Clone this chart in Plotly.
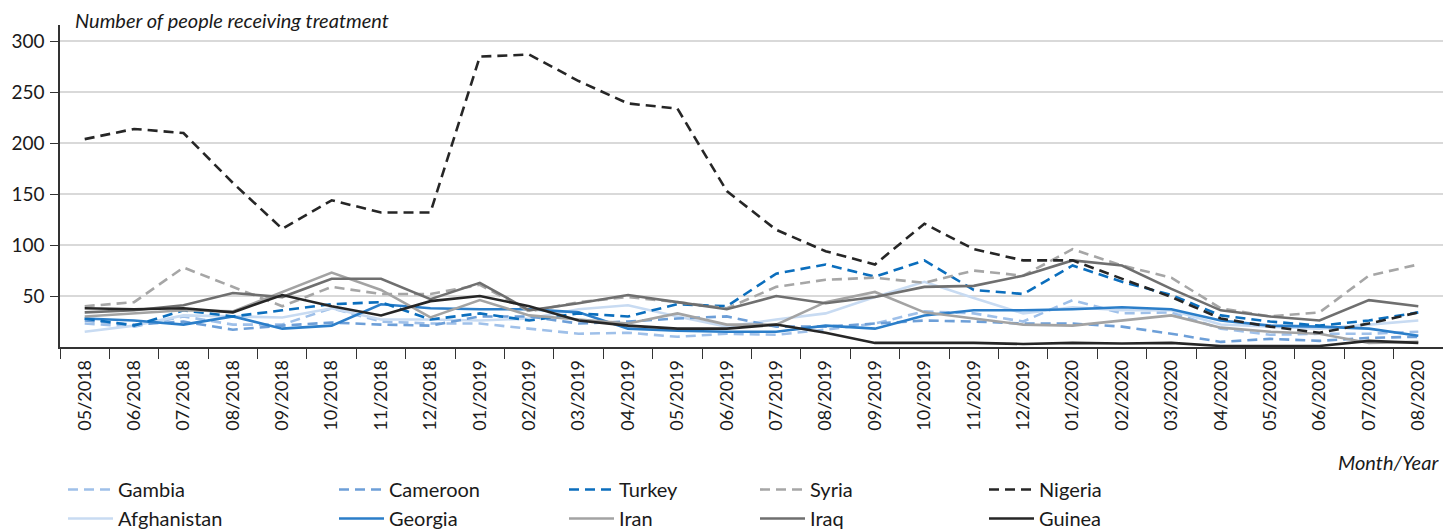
import plotly.graph_objects as go

months = ["05/2018", "06/2018", "07/2018", "08/2018", "09/2018", "10/2018", "11/2018", "12/2018",
          "01/2019", "02/2019", "03/2019", "04/2019", "05/2019", "06/2019", "07/2019", "08/2019",
          "09/2019", "10/2019", "11/2019", "12/2019", "01/2020", "02/2020", "03/2020", "04/2020",
          "05/2020", "06/2020", "07/2020", "08/2020"]

gambia = [23, 20, 30, 22, 22, 38, 25, 23, 23, 18, 13, 14, 10, 13, 12, 17, 23, 35, 33, 25, 46, 33, 34, 18, 12, 13, 13, 15]
cameroon = [26, 22, 25, 17, 21, 24, 22, 21, 30, 30, 23, 25, 28, 30, 20, 20, 23, 26, 25, 23, 23, 20, 13, 5, 8, 6, 9, 10]
turkey = [28, 21, 36, 30, 36, 42, 44, 27, 33, 26, 33, 30, 42, 40, 72, 81, 69, 85, 56, 52, 80, 64, 51, 31, 25, 21, 26, 34]
syria = [40, 44, 78, 59, 40, 59, 52, 52, 61, 35, 44, 49, 44, 38, 59, 66, 68, 63, 75, 70, 96, 80, 68, 38, 30, 34, 70, 81]
nigeria = [204, 214, 210, 161, 116, 144, 132, 132, 285, 287, 261, 239, 234, 153, 115, 94, 81, 121, 96, 85, 85, 67, 49, 28, 20, 14, 23, 34]
afghanistan = [15, 21, 31, 30, 29, 38, 27, 27, 26, 28, 37, 41, 30, 20, 27, 33, 49, 64, 48, 33, 39, 36, 36, 22, 20, 18, 22, 26]
georgia = [28, 26, 22, 30, 18, 21, 42, 38, 37, 37, 34, 18, 16, 15, 15, 21, 18, 31, 36, 36, 37, 39, 37, 26, 21, 20, 18, 11]
iran = [30, 33, 36, 35, 54, 73, 56, 29, 46, 31, 27, 23, 33, 22, 22, 44, 54, 34, 28, 22, 21, 26, 31, 19, 15, 13, 4, 5]
iraq = [34, 36, 41, 53, 49, 67, 67, 47, 63, 36, 43, 51, 44, 37, 50, 43, 49, 59, 60, 70, 85, 80, 57, 36, 30, 26, 46, 40]
guinea = [38, 37, 38, 34, 51, 40, 31, 45, 50, 40, 26, 21, 18, 18, 22, 14, 4, 4, 4, 3, 4, 3.5, 4, 1, 1, 1, 6, 4]

series = [
    # name, values, color, dashed, legend id
    ("Gambia", gambia, "#9fc0e9", True, "legend"),
    ("Afghanistan", afghanistan, "#c8dbf2", False, "legend"),
    ("Cameroon", cameroon, "#6d9fd8", True, "legend2"),
    ("Georgia", georgia, "#2b7ec9", False, "legend2"),
    ("Turkey", turkey, "#0b6ebd", True, "legend3"),
    ("Iran", iran, "#a3a3a3", False, "legend3"),
    ("Syria", syria, "#a6a6a6", True, "legend4"),
    ("Iraq", iraq, "#6f6f6f", False, "legend4"),
    ("Nigeria", nigeria, "#262626", True, "legend5"),
    ("Guinea", guinea, "#262626", False, "legend5"),
]

FONT = "Lato"
fig = go.Figure()
for name, vals, color, dashed, leg in series:
    fig.add_trace(go.Scatter(
        x=months, y=vals, name=name, mode="lines",
        line=dict(color=color, width=2.6, dash="10px,6px" if dashed else "solid"),
        legend=leg, hoverinfo="x+y+name",
    ))

ML, MR, MT, MB = 60, 0, 25, 183
W, H = 1443, 530
PW = W - ML - MR
PH = H - MT - MB

def px_x(px):
    return (px - ML) / PW

def px_y(py):
    return (H - MB - py) / PH

leg_common = dict(orientation="v", xanchor="left", yanchor="top", bgcolor="rgba(0,0,0,0)",
                  font=dict(family=FONT, size=20, color="#1a1a1a"), itemwidth=45,
                  tracegroupgap=0, traceorder="normal")
legend_cols = [63, 334, 564, 755, 984]
legend_y = 470

layout_legends = {}
for i, xp in enumerate(legend_cols):
    key = "legend" if i == 0 else f"legend{i+1}"
    layout_legends[key] = dict(leg_common, x=px_x(xp), y=px_y(legend_y))

fig.update_layout(
    width=W, height=H,
    margin=dict(l=ML, r=MR, t=MT, b=MB, pad=0, autoexpand=False),
    plot_bgcolor="white", paper_bgcolor="white",
    font=dict(family=FONT, size=18, color="#1a1a1a"),
    showlegend=True,
    **layout_legends,
    xaxis=dict(
        type="category", categoryorder="array", categoryarray=months,
        range=[-0.5, len(months) - 0.5],
        tickson="boundaries", ticks="outside", ticklen=10, tickwidth=1.3, tickcolor="#333333",
        tickangle=-90, ticklabelstandoff=4,
        tickfont=dict(family=FONT, size=18, color="#1a1a1a"),
        showline=True, linecolor="#333333", linewidth=1.5,
        showgrid=False, zeroline=False,
    ),
    yaxis=dict(
        range=[0, 316], tickvals=[50, 100, 150, 200, 250, 300],
        ticks="outside", ticklen=8, tickwidth=1.3, tickcolor="#333333",
        ticklabelstandoff=2,
        tickfont=dict(family=FONT, size=19, color="#1a1a1a"),
        showline=True, linecolor="#333333", linewidth=1.5,
        showgrid=True, gridcolor="#d9d9d9", gridwidth=1.5, zeroline=False,
    ),
    annotations=[
        dict(text="<i>Number of people receiving treatment</i>", xref="paper", yref="paper",
             x=px_x(73), y=px_y(20), xanchor="left", yanchor="middle", showarrow=False,
             font=dict(family=FONT, size=20, color="#1a1a1a")),
        dict(text="<i>Month/Year</i>", xref="paper", yref="paper",
             x=px_x(1441), y=px_y(462), xanchor="right", yanchor="middle", showarrow=False,
             font=dict(family=FONT, size=20, color="#1a1a1a")),
    ],
)

fig.write_html("out.html", config={"displayModeBar": False},
               post_script="document.body.style.margin='0';document.body.style.overflow='hidden';")
